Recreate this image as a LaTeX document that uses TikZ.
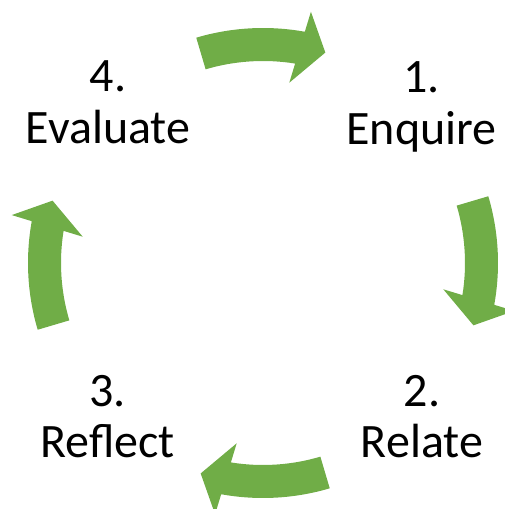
\documentclass[tikz,border=0pt]{standalone}
\usepackage{fontspec}
\setmainfont{Carlito}
\definecolor{cycgreen}{RGB}{112,173,71}
\begin{document}
\begin{tikzpicture}[x=1pt,y=1pt,
  lbl/.style={align=center, anchor=base, inner sep=0pt, font=\fontsize{48}{52}\selectfont},
  cyclearrow/.style={fill=cycgreen, draw=none}]
\useasboundingbox (0,0) rectangle (505,509);
\coordinate (c) at (263,246);
\node[lbl] (n1) at (421.5,364) {1.\\Enquire};
\node[lbl] (n2) at (422,51) {2.\\Relate};
\node[lbl] (n3) at (107.5,51) {3.\\Reflect};
\node[lbl] (n4) at (108,365.5) {4.\\Evaluate};
\foreach \r in {0,-90,-180,-270}{
  \fill[cyclearrow, shift={(c)}, rotate=\r]
    (106.5:235) arc[start angle=106.5, end angle=79.75, radius=235]
    -- (79.2:255.8) -- (73.5:219.5) -- (81.7:182.2) -- (80.85:202)
    arc[start angle=80.85, end angle=106.5, radius=202] -- cycle;
}
\end{tikzpicture}
\end{document}
